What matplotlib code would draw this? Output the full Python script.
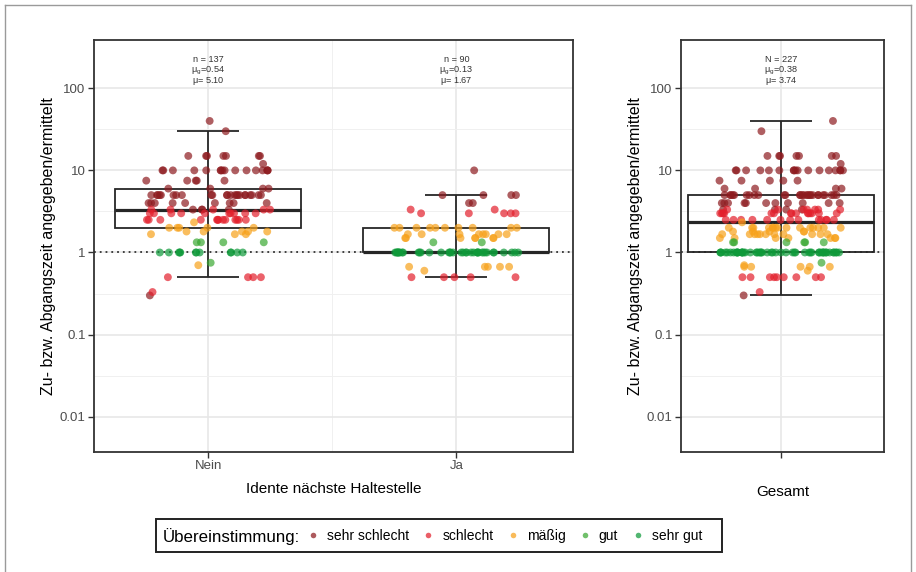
import numpy as np
import matplotlib.pyplot as plt
from matplotlib.lines import Line2D
from matplotlib.patches import Rectangle

plt.rcParams['font.family'] = ['Liberation Sans', 'DejaVu Sans']
plt.rcParams['mathtext.fontset'] = 'custom'
plt.rcParams['mathtext.rm'] = 'Liberation Sans'
plt.rcParams['mathtext.it'] = 'Liberation Sans'

# Kategorien der Übereinstimmung und Farben
kategorien = ['sehr schlecht', 'schlecht', 'mäßig', 'gut', 'sehr gut']
farben = ['#8e1b1f', '#e3202c', '#f7a11a', '#3aa832', '#0f9a3a']

gruppen = ['Nein', 'Ja']

# Werte je Gruppe und Kategorie
nein_sehr_schlecht = [40, 30, 15, 15, 15, 15, 15, 15, 15, 12,
                      10, 10, 10, 10, 10, 10, 10, 10, 10, 10, 10, 10, 10, 10, 10, 10,
                      7.5, 7.5, 7.5, 7.5, 7.5, 6, 6, 6, 6,
                      5, 5, 5, 5, 5, 5, 5, 5, 5, 5, 5, 5, 5, 5, 5, 5, 5, 5, 5, 5, 5, 5, 5,
                      4, 4, 4, 4, 4, 4, 4, 4, 4, 3.33, 3.33, 3.33, 3.33, 0.3]
nein_schlecht = [3.33, 3.33, 3.33, 3.33, 3.33, 3, 3, 3, 3, 3, 3, 3, 3, 3, 3,
                 2.5, 2.5, 2.5, 2.5, 2.5, 2.5, 2.5, 2.5, 2.5, 2.5, 2.5, 2.5, 2.5,
                 0.5, 0.5, 0.5, 0.5, 0.33]
nein_maessig = [2.33, 2, 2, 2, 2, 2, 1.8, 1.8, 1.8, 1.8, 1.8, 1.67, 1.67, 1.67, 0.7]
nein_gut = [1.33, 1.33, 1.33, 1.33, 0.75]
nein_sehr_gut = [1, 1, 1, 1, 1, 1, 1, 1, 1, 1, 1, 1]

ja_sehr_schlecht = [10, 5, 5, 5, 5, 4, 4]
ja_schlecht = [3.33, 3.33, 3, 3, 3, 3, 3, 0.5, 0.5, 0.5, 0.5, 0.5]
ja_maessig = [2, 2, 2, 2, 2, 2, 2, 2, 2, 2,
              1.67, 1.67, 1.67, 1.67, 1.67, 1.67, 1.67, 1.67,
              1.5, 1.5, 1.5, 1.5, 1.5, 1.5, 1.5,
              0.67, 0.67, 0.67, 0.67, 0.67, 0.6]
ja_gut = [1.33, 1.33]
ja_sehr_gut = [1, 1, 1, 1, 1, 1, 1, 1, 1, 1, 1, 1, 1, 1, 1, 1, 1, 1, 1,
               1, 1, 1, 1, 1, 1, 1, 1, 1, 1, 1, 1, 1, 1, 1, 1, 1, 1, 1]

# Beschriftung oben (n, geom. Mittel log10, arithm. Mittel)
stat_labels = {'Nein': ['n = 137', '0.54', '5.10'],
               'Ja': ['n = 90', '0.13', '1.67'],
               'Gesamt': ['N = 227', '0.38', '3.74']}

nein = [nein_sehr_schlecht, nein_schlecht, nein_maessig, nein_gut, nein_sehr_gut]
ja = [ja_sehr_schlecht, ja_schlecht, ja_maessig, ja_gut, ja_sehr_gut]
gesamt = [a + b for a, b in zip(nein, ja)]


def box_stats(werte):
    # Boxplot im log10-Raum, Whisker 1.5*IQR (wie ggplot mit scale_y_log10)
    lw = np.log10(np.array(werte, dtype=float))
    q1, med, q3 = np.percentile(lw, [25, 50, 75])
    iqr = q3 - q1
    lo = lw[lw >= q1 - 1.5 * iqr].min()
    hi = lw[lw <= q3 + 1.5 * iqr].max()
    return [10 ** v for v in (lo, q1, med, q3, hi)]


def draw_group(ax, pos, daten, label, phase):
    alle = []
    for d in daten:
        alle += d
    lo, q1, med, q3, hi = box_stats(alle)
    lc = '#262626'
    ax.vlines(pos, lo, hi, color=lc, lw=1.3, zorder=3)
    ax.hlines([lo, hi], pos - 0.125, pos + 0.125, color=lc, lw=1.3, zorder=3)
    ax.add_patch(Rectangle((pos - 0.375, q1), 0.75, q3 - q1, fill=False,
                           edgecolor=lc, lw=1.3, zorder=3))
    ax.hlines(med, pos - 0.375, pos + 0.375, color=lc, lw=2.3, zorder=3)
    # Jitter (deterministisch, gemischte Folge)
    i = phase
    for d, farbe in zip(daten, farben):
        n = len(d)
        k = np.arange(i, i + n)
        off = ((k * 0.6180339887 + (k * k) * 0.0731) % 1.0 - 0.5) * 0.5
        i += n
        ax.scatter(pos + off, d, s=32, color=farbe, alpha=0.7,
                   edgecolors='none', zorder=4)
    s = stat_labels[label]
    zeilen = [s[0], r'$\mathregular{\mu_g}$=' + s[1], r'$\mathregular{\mu}$= ' + s[2]]
    for zeile, yl in zip(zeilen, [2.347, 2.217, 2.087]):
        ax.text(pos, 10 ** yl, zeile, ha='center', va='center', fontsize=6.6,
                color='#333333', zorder=5)


fig = plt.figure(figsize=(9.16, 5.72), dpi=100)
W, H = 916, 572
ax1 = fig.add_axes([94 / W, 1 - 452 / H, (573 - 94) / W, (452 - 40) / H])
ax2 = fig.add_axes([681 / W, 1 - 452 / H, (884 - 681) / W, (452 - 40) / H])

draw_group(ax1, 1, nein, 'Nein', 3)
draw_group(ax1, 2, ja, 'Ja', 11)
draw_group(ax2, 1, gesamt, 'Gesamt', 5)

ax1.set_xlim(0.54, 2.47)
ax2.set_xlim(0.595, 1.415)

for ax in (ax1, ax2):
    ax.set_yscale('log')
    ax.set_ylim(10 ** -2.43, 10 ** 2.588)
    ax.set_yticks([0.01, 0.1, 1, 10, 100])
    ax.set_yticklabels(['0.01', '0.1', '1', '10', '100'])
    ax.set_yticks([10 ** -1.5, 10 ** -0.5, 10 ** 0.5, 10 ** 1.5], minor=True)
    ax.yaxis.set_minor_formatter(plt.NullFormatter())
    ax.axhline(1, color='#333333', lw=1.3, ls=(0, (1, 2.2)), zorder=2.5)
    ax.grid(which='major', color='#e6e6e6', lw=1.1, zorder=0)
    ax.grid(which='minor', color='#f0f0f0', lw=0.7, zorder=0)
    ax.set_axisbelow(True)
    for sp in ax.spines.values():
        sp.set_color('#333333')
        sp.set_linewidth(1.3)
    ax.tick_params(which='major', length=4, width=1, color='#333333',
                   labelsize=9.5, labelcolor='#4d4d4d', pad=2)
    ax.tick_params(which='minor', length=0)
    ax.set_ylabel('Zu- bzw. Abgangszeit angegeben/ermittelt', fontsize=11.5,
                  color='black', labelpad=3)

ax1.set_xticks([1, 2])
ax1.set_xticklabels(gruppen)
ax1.set_xticks([1.5], minor=True)
ax1.set_xlabel('Idente nächste Haltestelle', fontsize=11, labelpad=7)
ax2.set_xticks([1])
ax2.set_xticklabels([''])
ax2.set_xlabel('Gesamt', fontsize=11, labelpad=18)

# Legende mit Titel links
handles = [Line2D([], [], marker='o', ls='none', markersize=4, color=f, alpha=0.72,
                  markeredgewidth=0) for f in farben]
leg = fig.legend(handles, kategorien, loc='center left', ncol=5, frameon=False,
                 bbox_to_anchor=(306 / W, 1 - 536 / H), fontsize=10,
                 borderpad=0, borderaxespad=0, handlelength=1.0,
                 handletextpad=0.5, columnspacing=0.9)
fig.text(163 / W, 1 - 537 / H, 'Übereinstimmung:', fontsize=12.2, va='center', ha='left')
fig.add_artist(Rectangle((156 / W, 1 - 552 / H), (722 - 156) / W, (552 - 519) / H,
                         transform=fig.transFigure, fill=False, edgecolor='#222222', lw=1.4))

# Außenrahmen
rc = '#9a9a9a'
fig.add_artist(Line2D([5 / W, 5 / W], [0, 1 - 5 / H], transform=fig.transFigure, color=rc, lw=1))
fig.add_artist(Line2D([5 / W, 911 / W], [1 - 5 / H, 1 - 5 / H], transform=fig.transFigure, color=rc, lw=1))
fig.add_artist(Line2D([911 / W, 911 / W], [0, 1 - 5 / H], transform=fig.transFigure, color=rc, lw=1))

fig.savefig('out.png', dpi=100)
